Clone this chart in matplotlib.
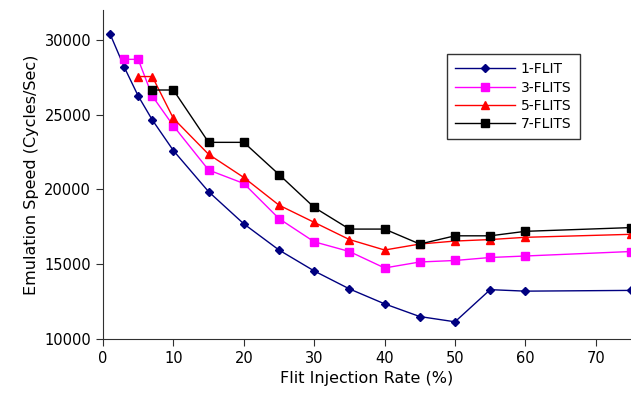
import matplotlib.pyplot as plt

# данні з графіка
x_1 = [1, 3, 5, 7, 10, 15, 20, 25, 30, 35, 40, 45, 50, 55, 60, 75]
y_1 = [30400, 28200, 26250, 24650, 22600, 19850, 17700, 15950, 14550, 13350,
       12350, 11500, 11150, 13300, 13200, 13250]

x_3 = [3, 5, 7, 10, 15, 20, 25, 30, 35, 40, 45, 50, 55, 60, 75]
y_3 = [28700, 28700, 26250, 24250, 21300, 20400, 18050, 16500, 15850, 14750,
       15150, 15250, 15450, 15550, 15850]

x_5 = [5, 7, 10, 15, 20, 25, 30, 35, 40, 45, 50, 55, 60, 75]
y_5 = [27550, 27550, 24750, 22350, 20800, 18950, 17800, 16650, 15950, 16350,
       16550, 16650, 16800, 17000]

x_7 = [7, 10, 15, 20, 25, 30, 35, 40, 45, 50, 55, 60, 75]
y_7 = [26650, 26650, 23150, 23150, 21000, 18800, 17350, 17350, 16350, 16900,
       16900, 17200, 17450]

labels = ['1-FLIT', '3-FLITS', '5-FLITS', '7-FLITS']

fig = plt.figure(figsize=(6.31, 3.98), dpi=100)
ax = fig.add_axes([103 / 631, 59 / 398, 528 / 631, 329 / 398])

ax.plot(x_1, y_1, color='#000080', lw=1, marker='D', ms=4.5, label=labels[0], clip_on=False)
ax.plot(x_3, y_3, color='#FF00FF', lw=1, marker='s', ms=5.8, label=labels[1], clip_on=False)
ax.plot(x_5, y_5, color='#FF0000', lw=1, marker='^', ms=6.2, label=labels[2], clip_on=False)
ax.plot(x_7, y_7, color='#000000', lw=1, marker='s', ms=5.8, label=labels[3], clip_on=False)

ax.set_xlim(0, 75)
ax.set_ylim(10000, 32000)
ax.set_xticks(range(0, 80, 10))
ax.set_yticks(range(10000, 30001, 5000))
ax.spines['top'].set_visible(False)
ax.spines['right'].set_visible(False)
for s in ['left', 'bottom']:
    ax.spines[s].set_color('#303030')
ax.tick_params(labelsize=10.5, length=5, color='#303030')
ax.set_xlabel('Flit Injection Rate (%)', fontsize=11.5)
ax.set_ylabel('Emulation Speed (Cycles/Sec)', fontsize=11.5)

leg = ax.legend(loc='upper left', bbox_to_anchor=(447 / 631, 1 - 54 / 398),
                bbox_transform=fig.transFigure, borderaxespad=0,
                fancybox=False, edgecolor='black',
                fontsize=10, handlelength=4.3, handletextpad=0.4,
                borderpad=0.6, labelspacing=0.3)
leg.get_frame().set_linewidth(1)

fig.savefig('out.png', dpi=100)
